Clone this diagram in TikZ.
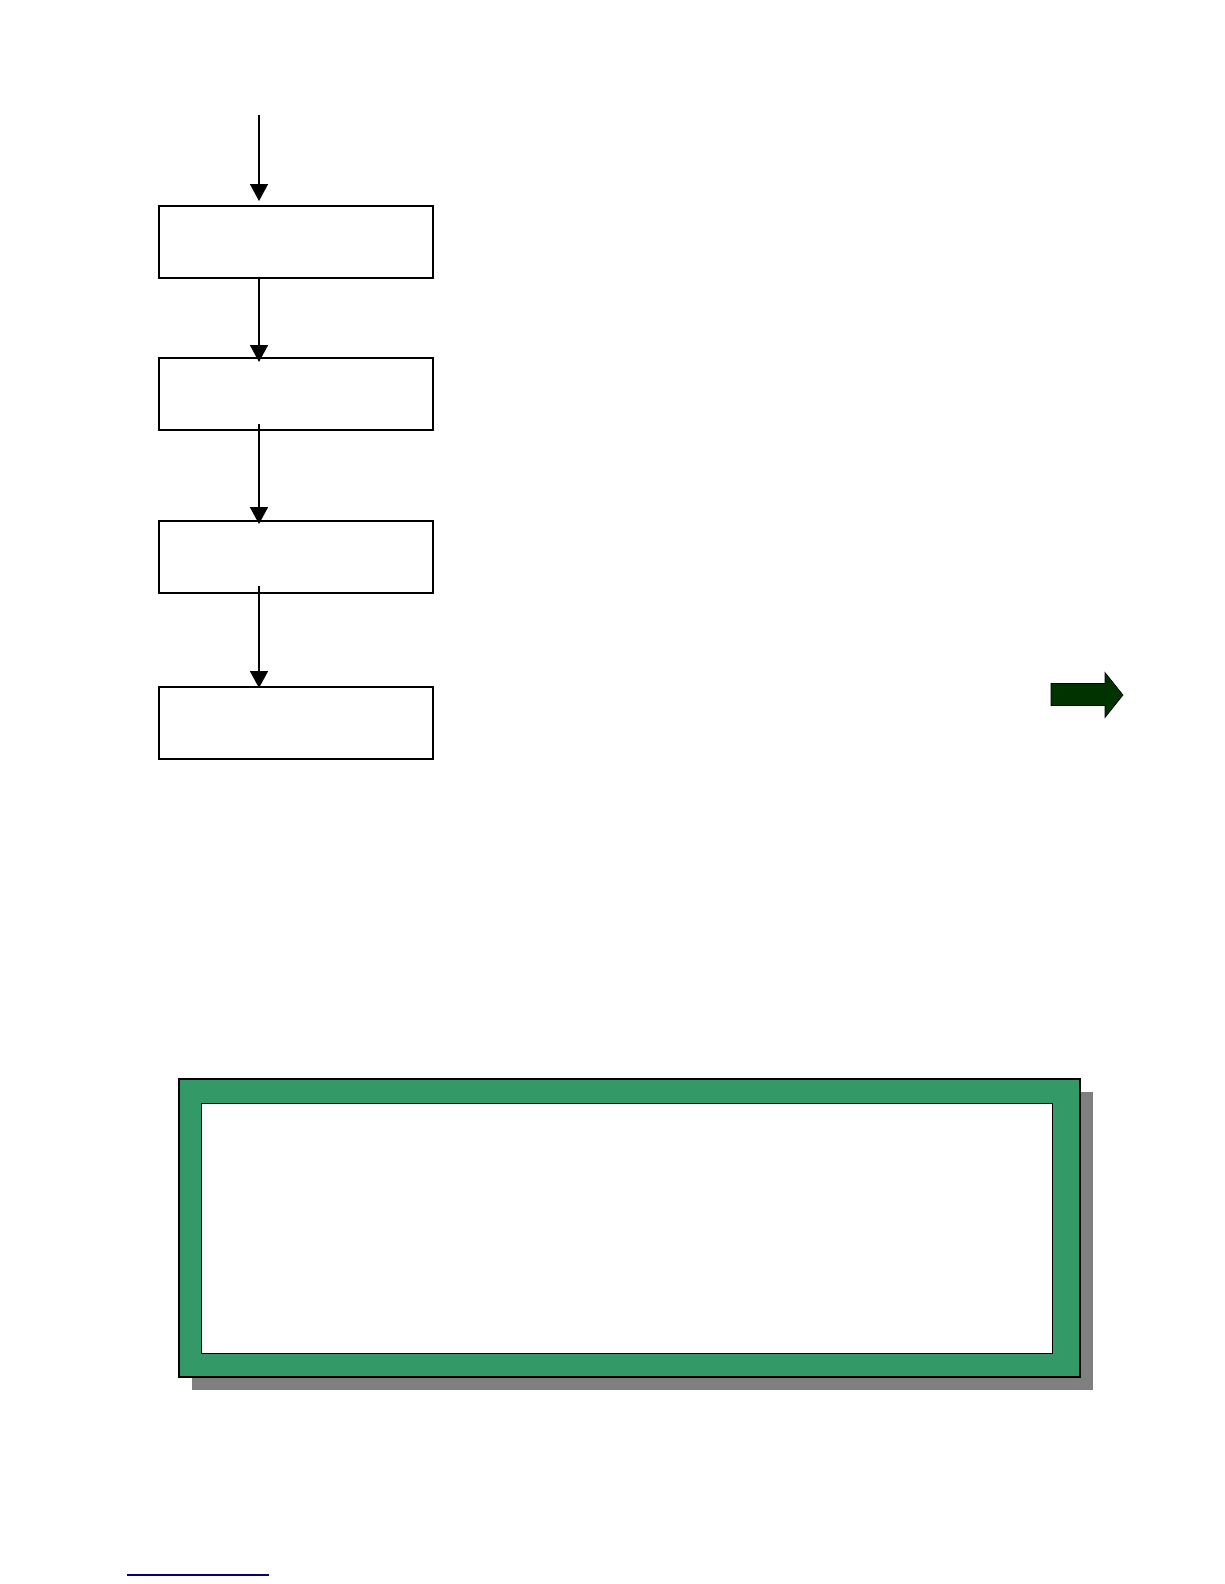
\documentclass[tikz,border=0pt]{standalone}
\usetikzlibrary{arrows.meta}
\definecolor{framegreen}{HTML}{339966}
\definecolor{arrowgreen}{HTML}{003300}
\definecolor{shadowgray}{HTML}{808080}
\definecolor{noteblue}{HTML}{000080}
\begin{document}
\begin{tikzpicture}[x=1pt,y=-1pt,
  stepbox/.style={draw=black,line width=2.4pt,minimum width=274pt,minimum height=72pt,inner sep=0pt,anchor=north west},
  flow/.style={draw=black,line width=1.8pt,-{Triangle[length=17pt,width=18pt]}}]
\useasboundingbox (0,0) rectangle (1224,1584);
% flow boxes
\node[stepbox] (b1) at (158,205) {};
\node[stepbox] (b2) at (158,356.5) {};
\node[stepbox] (b3) at (158,520) {};
\node[stepbox] (b4) at (158,685.5) {};
\coordinate (s0) at (259,115);
\coordinate (t1) at (259,201);
\coordinate (s1) at (259,277);
\coordinate (t2) at (259,362);
\coordinate (s2) at (259,424);
\coordinate (t3) at (259,524);
\coordinate (s3) at (259,586);
\coordinate (t4) at (259,688);
\draw[flow] (s0) -- (t1);
\draw[flow] (s1) -- (t2);
\draw[flow] (s2) -- (t3);
\draw[flow] (s3) -- (t4);
% green block arrow
\draw[fill=arrowgreen,draw=black,line width=0.6pt]
  (1051,683.5) -- (1105,683.5) -- (1105,672.5) -- (1123,695) -- (1105,717.5) -- (1105,705.5) -- (1051,705.5) -- cycle;
% frame with shadow
\fill[shadowgray] (192,1092) rectangle (1093,1390);
\draw[fill=framegreen,draw=black,line width=1.6pt] (179,1079) rectangle (1080,1377);
\draw[fill=white,draw=black,line width=1pt] (201,1103) rectangle (1052,1353);
% footnote rule
\draw[noteblue,line width=1.3pt] (127,1575) -- (269,1575);
\end{tikzpicture}
\end{document}
